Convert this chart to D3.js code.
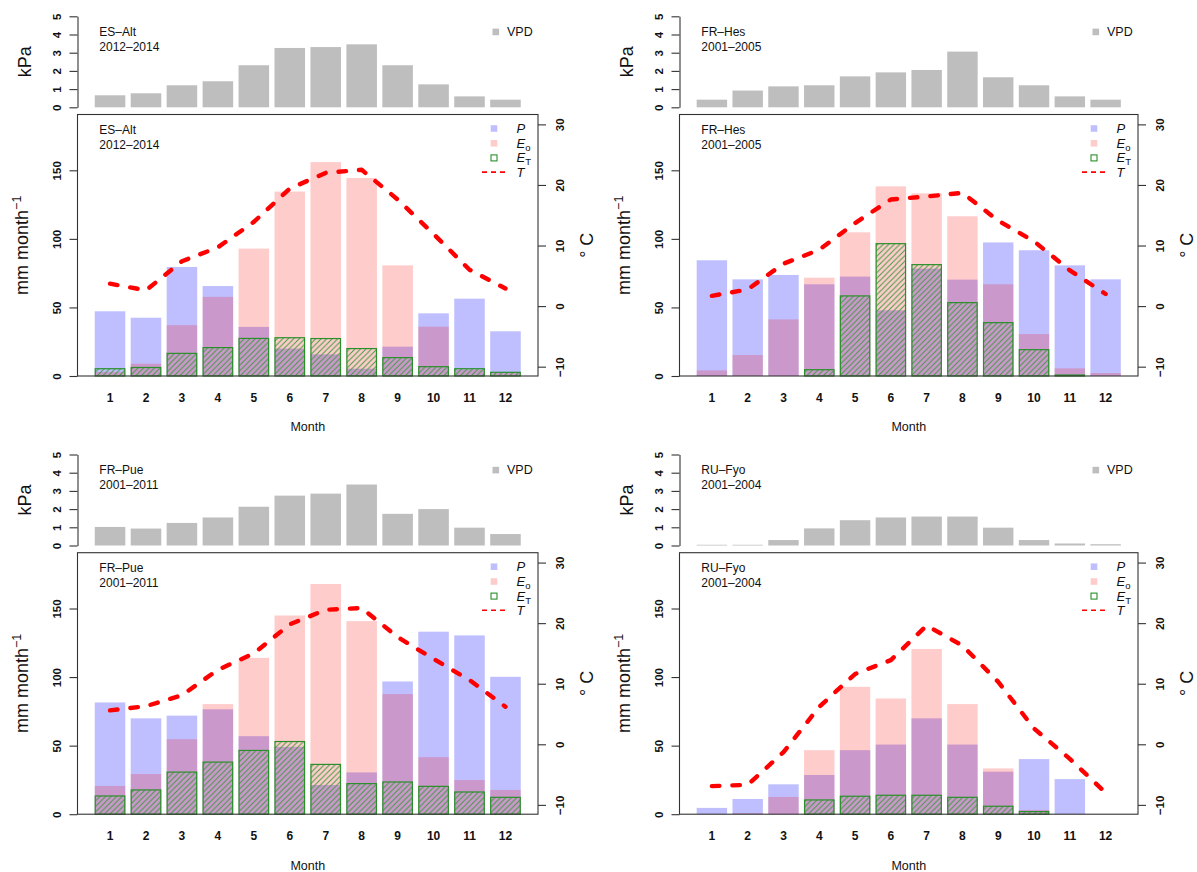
<!DOCTYPE html>
<html>
<head>
<meta charset="utf-8">
<script src="https://cdn.jsdelivr.net/npm/d3@7"></script>
<style>
  body { margin: 0; background: #fff; }
  svg { display: block; }
  text { font-family: "Liberation Sans", Arial, Helvetica, sans-serif; fill: #111; }
</style>
</head>
<body>
<svg id="chart" width="1197" height="872"></svg>
<script>
// ---- categories & tick labels ----
const months = [1, 2, 3, 4, 5, 6, 7, 8, 9, 10, 11, 12];
const vpdTicks = [0, 1, 2, 3, 4, 5];
const mmTicks = [0, 50, 100, 150];
const tempTicks = [-10, 0, 10, 20, 30];

// ---- site names and periods ----
const siteNames = ["ES–Alt", "FR–Hes", "FR–Pue", "RU–Fyo"];
const sitePeriods = ["2012–2014", "2001–2005", "2001–2011", "2001–2004"];

// ---- ES-Alt ----
const vpdESAlt = [0.66, 0.77, 1.21, 1.43, 2.31, 3.26, 3.31, 3.46, 2.31, 1.26, 0.60, 0.42];
const pESAlt   = [47.2, 42.5, 79.5, 65.6, 35.8, 20.0, 15.8, 5.3, 21.4, 45.7, 56.4, 32.6];
const eoESAlt  = [3.0, 9.0, 37.1, 57.7, 92.9, 134.5, 156.0, 144.4, 80.7, 36.0, 4.6, 2.2];
const etESAlt  = [5.3, 6.2, 16.5, 20.7, 27.4, 27.9, 27.3, 20.0, 13.4, 6.8, 5.3, 2.7];
const tESAlt   = [3.7, 2.6, 7.4, 9.7, 13.9, 19.4, 22.0, 22.5, 17.6, 11.9, 6.0, 2.9];

// ---- FR-Hes ----
const vpdFRHes = [0.42, 0.92, 1.15, 1.21, 1.70, 1.92, 2.05, 3.06, 1.65, 1.21, 0.60, 0.42];
const pFRHes   = [84.4, 70.5, 73.7, 66.9, 72.5, 47.9, 78.3, 70.3, 97.4, 91.7, 80.7, 70.5];
const eoFRHes  = [4.1, 15.3, 41.3, 71.7, 104.8, 138.3, 133.2, 116.5, 66.9, 30.6, 5.6, 2.2];
const etFRHes  = [0, 0, 0, 4.6, 58.4, 96.5, 81.2, 53.5, 38.9, 19.2, 0.7, 0];
const tFRHes   = [1.7, 2.75, 7.0, 9.3, 13.7, 17.6, 18.1, 18.7, 14.1, 10.7, 5.9, 2.0];

// ---- FR-Pue ----
const vpdFRPue = [1.02, 0.93, 1.24, 1.54, 2.13, 2.74, 2.85, 3.35, 1.74, 2.00, 0.98, 0.63];
const pFRPue   = [81.5, 69.9, 71.9, 76.5, 56.9, 49.1, 21.3, 30.5, 96.8, 133.1, 130.4, 100.2];
const eoFRPue  = [20.6, 29.3, 54.7, 80.3, 114.0, 144.9, 167.9, 140.8, 87.6, 41.6, 24.9, 17.7];
const etFRPue  = [13.3, 17.7, 30.7, 38.0, 46.5, 53.0, 36.3, 22.3, 23.5, 20.3, 16.2, 12.3];
const tFRPue   = [5.6, 6.3, 8.1, 12.3, 15.0, 19.8, 22.2, 22.5, 17.7, 14.1, 10.6, 6.2];

// ---- RU-Fyo ----
const vpdRUFyo = [0.04, 0.04, 0.30, 0.94, 1.39, 1.54, 1.59, 1.59, 0.98, 0.30, 0.11, 0.07];
const pRUFyo   = [4.6, 11.1, 21.8, 28.6, 46.7, 50.8, 69.9, 50.8, 31.0, 40.2, 25.6, 0];
const eoRUFyo  = [0, 0.7, 12.6, 46.7, 92.9, 84.4, 120.5, 80.3, 33.4, 3.1, 0, 0];
const etRUFyo  = [0, 0, 0, 10.4, 13.1, 13.8, 13.8, 12.3, 5.8, 1.9, 0, 0];
const tRUFyo   = [-6.9, -6.7, -1.3, 6.2, 11.6, 13.9, 19.6, 16.3, 10.3, 2.6, -2.4, -8.0];

// ---- colours ----
const colP = "rgba(0,0,255,0.25)";
const colEo = "rgba(255,0,0,0.2)";
const colET = "#2a8f2a";
const colT = "#ff0000";
const colVPD = "#bebebe";

const panels = [
  { name: siteNames[0], period: sitePeriods[0], vpd: vpdESAlt, p: pESAlt, eo: eoESAlt, et: etESAlt, t: tESAlt },
  { name: siteNames[1], period: sitePeriods[1], vpd: vpdFRHes, p: pFRHes, eo: eoFRHes, et: etFRHes, t: tFRHes },
  { name: siteNames[2], period: sitePeriods[2], vpd: vpdFRPue, p: pFRPue, eo: eoFRPue, et: etFRPue, t: tFRPue },
  { name: siteNames[3], period: sitePeriods[3], vpd: vpdRUFyo, p: pRUFyo, eo: eoRUFyo, et: etRUFyo, t: tRUFyo }
];

// panel frames (left/right edge of the plotting box, top of the VPD strip)
const frames = [
  { left: 77.5, right: 538, top: 16.3 },
  { left: 679.5, right: 1138, top: 16.3 },
  { left: 77.5, right: 538, top: 454.5 },
  { left: 679.5, right: 1138, top: 454.5 }
];

const svg = d3.select("#chart");

// diagonal hatch for transpiration bars
const defs = svg.append("defs");
const hs = 5.5;
defs.append("pattern")
  .attr("id", "hatch")
  .attr("patternUnits", "userSpaceOnUse")
  .attr("width", hs).attr("height", hs)
  .append("path")
  .attr("d", `M0,${hs} L${hs},0 M${-hs/4},${hs/4} L${hs/4},${-hs/4} M${hs*3/4},${hs*5/4} L${hs*5/4},${hs*3/4}`)
  .attr("stroke", "#3a9a3a")
  .attr("stroke-width", 0.95)
  .attr("fill", "none");

const fmt = d3.format("d");

panels.forEach((pd, i) => {
  const f = frames[i];
  const vpdTop = f.top, vpdBottom = f.top + 91;
  const mainTop = f.top + 98.2, mainBottom = mainTop + 261.5;

  const x = d3.scaleBand().domain(months).range([f.left, f.right])
    .paddingInner(0.15).paddingOuter(0.48);
  const yVpd = d3.scaleLinear().domain([0, 5]).range([vpdBottom, vpdTop]);
  const yMm = d3.scaleLinear().domain([0, 190.7]).range([mainBottom, mainTop]);
  const yT = d3.scaleLinear().domain([-11.54, 31.63]).range([mainBottom, mainTop]);

  const g = svg.append("g");

  // ---- VPD strip ----
  g.append("g").selectAll("rect").data(months).join("rect")
    .attr("x", m => x(m)).attr("width", x.bandwidth())
    .attr("y", (m, k) => yVpd(pd.vpd[k]))
    .attr("height", (m, k) => yVpd(0) - yVpd(pd.vpd[k]))
    .attr("fill", colVPD);

  const ax1 = g.append("g").attr("transform", `translate(${f.left},0)`)
    .call(d3.axisLeft(yVpd).tickValues(vpdTicks).tickSize(8).tickSizeOuter(0).tickFormat(fmt));
  styleRotatedAxis(ax1, -20.5);

  g.append("text").attr("transform", `translate(${f.left - 52.5},${(vpdTop + vpdBottom) / 2}) rotate(-90)`)
    .attr("text-anchor", "middle").attr("dy", "0.35em").attr("font-size", 18).text("kPa");

  siteLabel(g, f.left + 21.8, vpdTop + 15.6, pd);
  g.append("rect").attr("x", f.right - 45.5).attr("y", vpdTop + 15.6 - 3.3)
    .attr("width", 6.6).attr("height", 6.6).attr("fill", colVPD);
  g.append("text").attr("x", f.right - 31).attr("y", vpdTop + 15.6).attr("dy", "0.35em")
    .attr("font-size", 12.5).text("VPD");

  // ---- main panel: P, Eo, ET bars ----
  g.append("g").selectAll("rect").data(months).join("rect")
    .attr("x", m => x(m)).attr("width", x.bandwidth())
    .attr("y", (m, k) => yMm(pd.p[k]))
    .attr("height", (m, k) => yMm(0) - yMm(pd.p[k]))
    .attr("fill", colP);
  g.append("g").selectAll("rect").data(months).join("rect")
    .attr("x", m => x(m)).attr("width", x.bandwidth())
    .attr("y", (m, k) => yMm(pd.eo[k]))
    .attr("height", (m, k) => yMm(0) - yMm(pd.eo[k]))
    .attr("fill", colEo);
  g.append("g").selectAll("rect").data(months.filter((m, k) => pd.et[k] > 0)).join("rect")
    .attr("x", m => x(m) + 0.5).attr("width", x.bandwidth() - 1)
    .attr("y", m => yMm(pd.et[months.indexOf(m)]))
    .attr("height", m => yMm(0) - yMm(pd.et[months.indexOf(m)]))
    .attr("fill", "url(#hatch)")
    .attr("stroke", colET).attr("stroke-width", 1.2);

  // temperature line
  const line = d3.line()
    .x((d, k) => x(months[k]) + x.bandwidth() / 2)
    .y(d => yT(d));
  g.append("path").datum(pd.t).attr("d", line)
    .attr("fill", "none").attr("stroke", colT).attr("stroke-width", 4.4)
    .attr("stroke-linecap", "round").attr("stroke-linejoin", "round")
    .attr("stroke-dasharray", "7.5,13");

  // box
  g.append("rect").attr("x", f.left).attr("y", mainTop)
    .attr("width", f.right - f.left).attr("height", mainBottom - mainTop)
    .attr("fill", "none").attr("stroke", "#333").attr("stroke-width", 1.1);

  // left axis (mm)
  const ax2 = g.append("g").attr("transform", `translate(${f.left},0)`)
    .call(d3.axisLeft(yMm).tickValues(mmTicks).tickSize(8).tickSizeOuter(0).tickFormat(fmt));
  ax2.select(".domain").remove();
  styleRotatedAxis(ax2, -21);

  // right axis (temperature)
  const ax3 = g.append("g").attr("transform", `translate(${f.right},0)`)
    .call(d3.axisRight(yT).tickValues(tempTicks).tickSize(8).tickSizeOuter(0));
  ax3.select(".domain").remove();
  styleRotatedAxis(ax3, 21.5);

  // month labels
  const ax4 = g.append("g").attr("transform", `translate(0,${mainBottom})`)
    .call(d3.axisBottom(x).tickSize(0));
  ax4.select(".domain").remove();
  ax4.selectAll("text").attr("y", 22).attr("dy", "0.35em")
    .attr("font-size", 12).attr("font-weight", "bold")
    .attr("font-family", null).style("fill", "#111");

  // axis titles
  const mmT = g.append("text")
    .attr("transform", `translate(${f.left - 56},${(mainTop + mainBottom) / 2}) rotate(-90)`)
    .attr("text-anchor", "middle").attr("dy", "0.35em").attr("font-size", 18);
  mmT.append("tspan").text("mm month");
  mmT.append("tspan").attr("dy", -7).attr("font-size", 12.5).text("−1");

  g.append("text")
    .attr("transform", `translate(${f.right + 48.5},${(mainTop + mainBottom) / 2}) rotate(-90)`)
    .attr("text-anchor", "middle").attr("dy", "0.35em").attr("font-size", 18).text("° C");

  g.append("text").attr("x", (f.left + f.right) / 2).attr("y", mainBottom + 51)
    .attr("dy", "0.35em").attr("text-anchor", "middle").attr("font-size", 12.5).text("Month");

  siteLabel(g, f.left + 21.8, mainTop + 14.8, pd);

  // legend
  const lx = f.right - 44, tx = f.right - 21.5;
  const ly = [mainTop + 14, mainTop + 28.8, mainTop + 43.4, mainTop + 57.6];
  g.append("rect").attr("x", lx - 3.3).attr("y", ly[0] - 3.3).attr("width", 6.6).attr("height", 6.6).attr("fill", colP);
  g.append("rect").attr("x", lx - 3.3).attr("y", ly[1] - 3.3).attr("width", 6.6).attr("height", 6.6).attr("fill", colEo);
  g.append("rect").attr("x", lx - 3).attr("y", ly[2] - 3).attr("width", 6).attr("height", 6)
    .attr("fill", "none").attr("stroke", colET).attr("stroke-width", 1.1);
  g.append("line").attr("x1", f.right - 56).attr("x2", f.right - 33).attr("y1", ly[3]).attr("y2", ly[3])
    .attr("stroke", colT).attr("stroke-width", 1.6).attr("stroke-dasharray", "5,4");

  const legT = (y, main, sub) => {
    const t = g.append("text").attr("x", tx).attr("y", y).attr("dy", "0.35em").attr("font-size", 13);
    t.append("tspan").attr("font-style", "italic").text(main);
    if (sub) t.append("tspan").attr("font-size", 9.5).attr("dy", 3).text(sub);
  };
  legT(ly[0], "P");
  legT(ly[1], "E", "o");
  legT(ly[2], "E", "T");
  legT(ly[3], "T");
});

function styleRotatedAxis(ax, off) {
  ax.selectAll(".tick line").attr("stroke", "#333").attr("stroke-width", 1.1);
  ax.selectAll(".domain").attr("stroke", "#333").attr("stroke-width", 1.1);
  ax.selectAll(".tick text")
    .attr("x", null).attr("y", null).attr("dy", null)
    .attr("transform", `translate(${off},0) rotate(-90)`)
    .attr("text-anchor", "middle")
    .attr("dy", "0.35em")
    .attr("font-size", 11.5).attr("font-weight", "bold")
    .attr("font-family", null).style("fill", "#111");
}

function siteLabel(g, x, y, pd) {
  g.append("text").attr("x", x).attr("y", y).attr("dy", "0.35em").attr("font-size", 12).text(pd.name);
  g.append("text").attr("x", x).attr("y", y + 15).attr("dy", "0.35em").attr("font-size", 12).text(pd.period);
}
</script>
</body>
</html>
